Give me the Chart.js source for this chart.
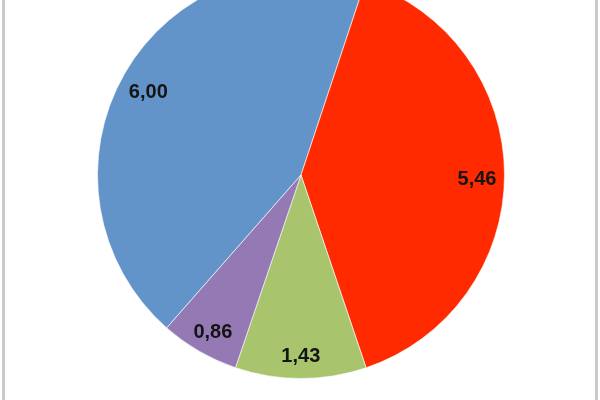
<!DOCTYPE html>
<html>
<head>
<meta charset="utf-8">
<script src="https://cdn.jsdelivr.net/npm/chart.js@4"></script>
<style>
  html, body { margin: 0; padding: 0; background: #fff; }
  body { width: 600px; height: 400px; overflow: hidden; position: relative; }
  #wrap { position: absolute; left: 1px; top: -29px; width: 600px; height: 408px; }
  .edge { position: absolute; top: 0; width: 3px; height: 400px; background: #c9c9c9; }
</style>
</head>
<body>
<div id="wrap"><canvas id="c" width="600" height="408"></canvas></div>
<div class="edge" style="left:2px"></div>
<div class="edge" style="left:595px"></div>
<script>
const categories = ['A', 'B', 'C', 'D'];
const values = [6.00, 5.46, 1.43, 0.86];
const valueLabels = ['6,00', '5,46', '1,43', '0,86'];
const colors = ['#6394c9', '#ff2a00', '#a8c46d', '#9479b5'];

const labelPlugin = {
  id: 'sliceLabels',
  afterDatasetsDraw(chart) {
    const ctx = chart.ctx;
    const meta = chart.getDatasetMeta(0);
    ctx.save();
    ctx.font = 'bold 20px "Liberation Sans", Arial, sans-serif';
    ctx.fillStyle = '#141414';
    ctx.textAlign = 'center';
    ctx.textBaseline = 'middle';
    meta.data.forEach((arc, i) => {
      const p = arc.getProps(['x', 'y', 'startAngle', 'endAngle', 'outerRadius'], true);
      const mid = (p.startAngle + p.endAngle) / 2;
      const r = p.outerRadius * 0.865;
      ctx.fillText(valueLabels[i], p.x + Math.cos(mid) * r, p.y + Math.sin(mid) * r + 5);
    });
    ctx.restore();
  }
};

new Chart(document.getElementById('c'), {
  type: 'pie',
  data: {
    labels: categories,
    datasets: [{
      data: values,
      backgroundColor: colors,
      borderColor: 'rgba(255,255,255,0.6)',
      borderWidth: 1
    }]
  },
  options: {
    responsive: false,
    animation: false,
    rotation: -138.7,
    layout: { padding: 0 },
    plugins: { legend: { display: false }, tooltip: { enabled: false } }
  },
  plugins: [labelPlugin]
});
</script>
</body>
</html>
